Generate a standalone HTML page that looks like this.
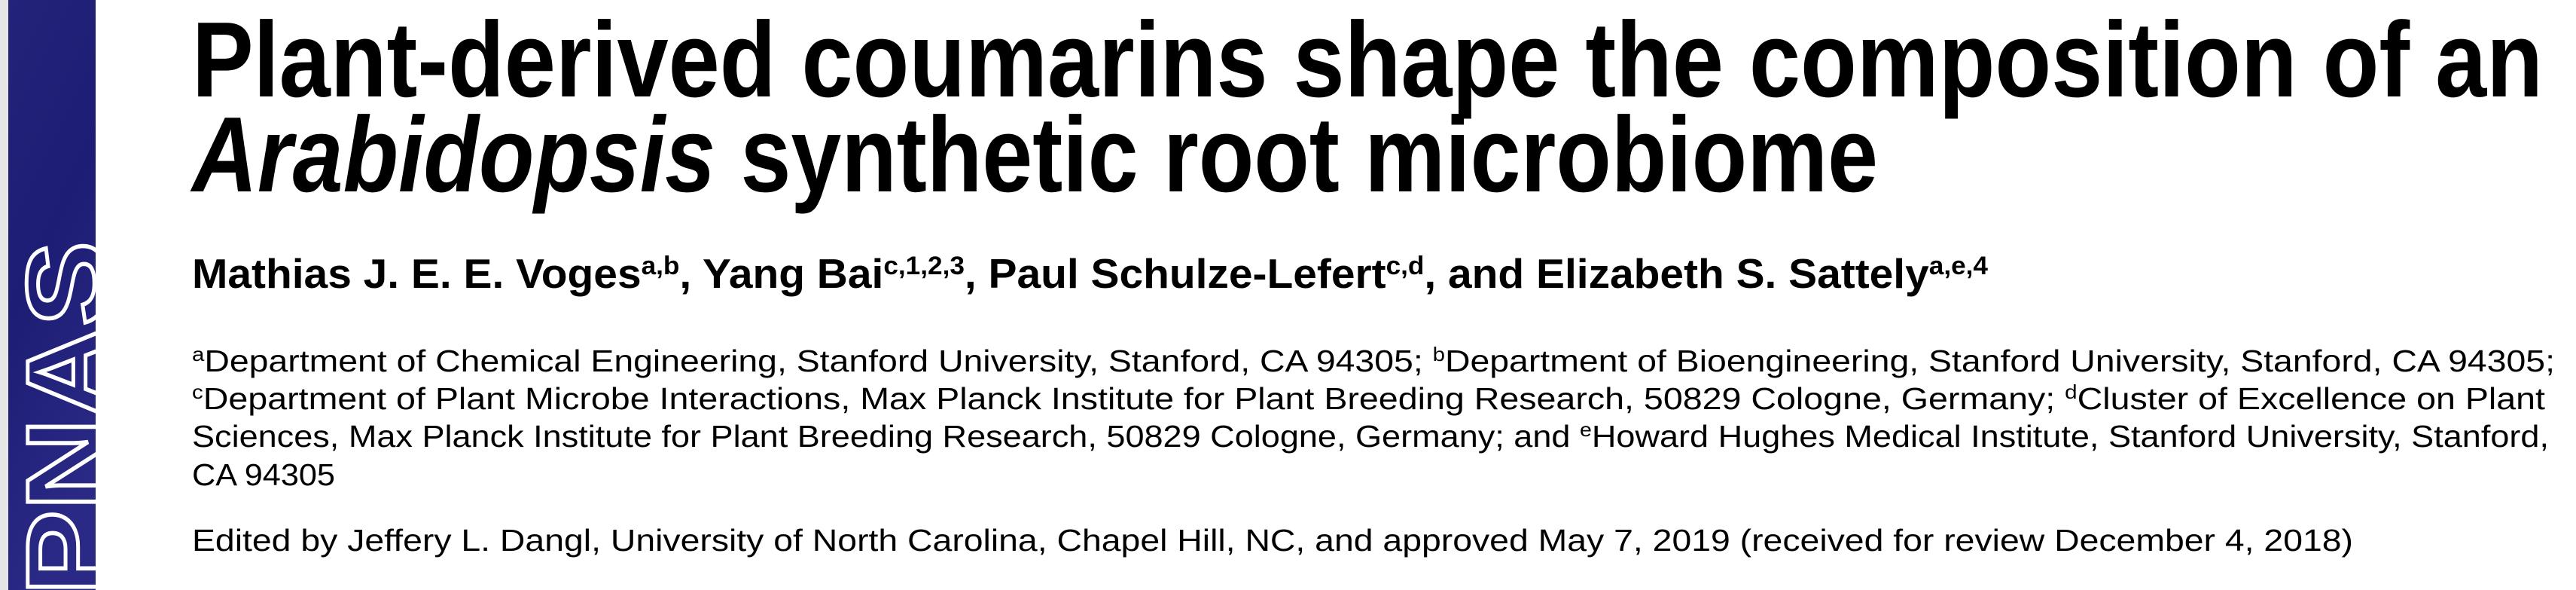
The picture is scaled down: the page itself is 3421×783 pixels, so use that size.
<!DOCTYPE html>
<html><head><meta charset="utf-8"><style>
html,body{margin:0;padding:0;background:#fff;width:3421px;height:783px;overflow:hidden}
svg{display:block}
text{font-family:"Liberation Sans",sans-serif;fill:#000}
</style></head><body>
<svg width="3421" height="783" viewBox="0 0 3421 783">
<defs>
<linearGradient id="bg" x1="0" y1="0" x2="0.3" y2="1">
<stop offset="0" stop-color="#23237a"/><stop offset="0.5" stop-color="#1d1d75"/><stop offset="1" stop-color="#2a2a86"/>
</linearGradient>
<clipPath id="bar"><rect x="11" y="0" width="116" height="783"/></clipPath>
</defs>
<rect x="0" y="0" width="11" height="783" fill="#e6e6e6"/>
<rect x="11" y="0" width="116" height="783" fill="url(#bg)"/>
<g clip-path="url(#bar)">
<text transform="translate(140,790) rotate(-90)" font-size="150" font-weight="bold" textLength="470" lengthAdjust="spacingAndGlyphs" style="fill:none;stroke:#fff;stroke-width:5">PNAS</text>
</g>
<text x="255" y="128" font-size="142" font-weight="bold" textLength="3122" lengthAdjust="spacingAndGlyphs">Plant-derived coumarins shape the composition of an</text>
<text x="255" y="254" font-size="142" font-weight="bold" textLength="2239" lengthAdjust="spacingAndGlyphs"><tspan font-style="italic">Arabidopsis</tspan> synthetic root microbiome</text>
<text x="255" y="382" font-size="55" font-weight="bold" textLength="2385" lengthAdjust="spacingAndGlyphs">Mathias J. E. E. Voges<tspan dy="-18" font-size="34">a,b</tspan><tspan dy="18">, Yang Bai</tspan><tspan dy="-18" font-size="34">c,1,2,3</tspan><tspan dy="18">, Paul Schulze-Lefert</tspan><tspan dy="-18" font-size="34">c,d</tspan><tspan dy="18">, and Elizabeth S. Sattely</tspan><tspan dy="-18" font-size="34">a,e,4</tspan></text>
<g>
<text x="255" y="493" font-size="41" textLength="3138" lengthAdjust="spacingAndGlyphs"><tspan dy="-14" font-size="26">a</tspan><tspan dy="14">Department of Chemical Engineering, Stanford University, Stanford, CA 94305; </tspan><tspan dy="-14" font-size="26">b</tspan><tspan dy="14">Department of Bioengineering, Stanford University, Stanford, CA 94305;</tspan></text>
<text x="255" y="543" font-size="41" textLength="3125" lengthAdjust="spacingAndGlyphs"><tspan dy="-14" font-size="26">c</tspan><tspan dy="14">Department of Plant Microbe Interactions, Max Planck Institute for Plant Breeding Research, 50829 Cologne, Germany; </tspan><tspan dy="-14" font-size="26">d</tspan><tspan dy="14">Cluster of Excellence on Plant</tspan></text>
<text x="255" y="593" font-size="41" textLength="3130" lengthAdjust="spacingAndGlyphs">Sciences, Max Planck Institute for Plant Breeding Research, 50829 Cologne, Germany; and <tspan dy="-14" font-size="26">e</tspan><tspan dy="14">Howard Hughes Medical Institute, Stanford University, Stanford,</tspan></text>
<text x="255" y="644" font-size="41" textLength="190" lengthAdjust="spacingAndGlyphs">CA 94305</text>
</g>
<text x="255" y="731" font-size="41" textLength="2870" lengthAdjust="spacingAndGlyphs">Edited by Jeffery L. Dangl, University of North Carolina, Chapel Hill, NC, and approved May 7, 2019 (received for review December 4, 2018)</text>
</svg>
</body></html>
